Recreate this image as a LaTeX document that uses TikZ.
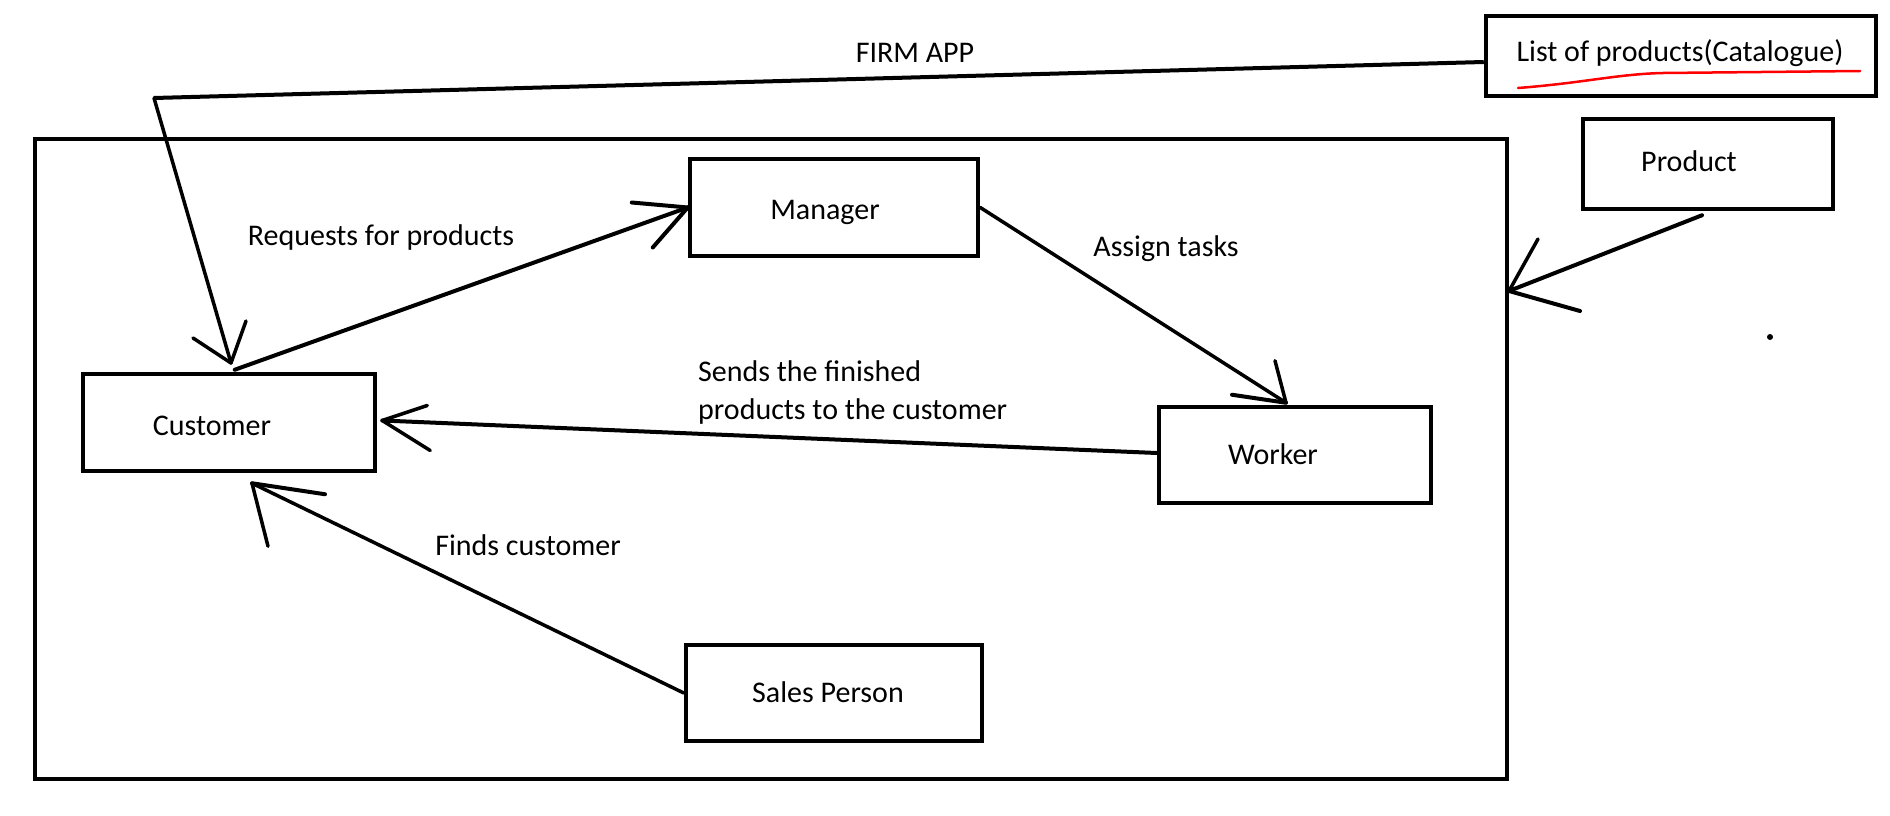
\documentclass[tikz,border=0pt]{standalone}
\usepackage{fontspec}
\setmainfont{Carlito}
\usetikzlibrary{calc}
\begin{document}
\begin{tikzpicture}[x=1pt,y=-1pt,
  box/.style={draw, line width=4.5, inner sep=0pt},
  lbl/.style={inner sep=0pt, font=\fontsize{30}{38}\selectfont},
  conn/.style={line width=4, line cap=round},
  thin conn/.style={line width=3.5, line cap=round}]
\fill[white] (0,0) rectangle (1890,816);
\useasboundingbox (0,0) rectangle (1890,816);
% boxes
\node[box, line width=4, minimum width=1472, minimum height=640] (outer) at (771,459) {};
\node[box, minimum width=288, minimum height=97] (mgr) at (834,207.5) {};
\node[box, minimum width=292, minimum height=97] (cust) at (229,422.5) {};
\node[box, minimum width=272, minimum height=96] (wrk) at (1295,455) {};
\node[box, minimum width=296, minimum height=96] (sales) at (834,693) {};
\node[box, minimum width=250, minimum height=90] (prod) at (1708,164) {};
\node[box, minimum width=390, minimum height=80] (list) at (1681,56) {};
% texts
\node[lbl] (tmgr) at (825,212) {Manager};
\node[lbl] (tcust) at (212,426) {Customer};
\node[lbl] (twrk) at (1273,454) {Worker};
\node[lbl] (tsales) at (828,692) {Sales Person};
\node[lbl] (tprod) at (1689,161) {Product};
\node[lbl] (tlist) at (1680,53) {List of products(Catalogue)};
\node[lbl] (tfirm) at (915,53) {FIRM APP};
\node[lbl] (treq) at (381,238) {Requests for products};
\node[lbl] (tassign) at (1166,249) {Assign tasks};
\node[lbl, align=left, anchor=north west] (tsends) at (698,360) {Sends the finished\\products to the customer};
\node[lbl] (tfinds) at (528,545) {Finds customer};
% red underline
\draw[red, line width=2.5, line cap=round] (1518,88) .. controls (1583,83) and (1618,74) .. (1663,73) -- (1860,71);
% FIRM APP connector
\coordinate (fc) at (154,98);
\coordinate (t1) at (231,363);
\draw[conn, line cap=butt] ($(list.west)+(0,6)$) -- (fc);
\draw[thin conn] (fc) -- (t1);
\draw[thin conn] (t1) -- ++(-38,-25);
\draw[thin conn] (t1) -- ++(15,-42);
% Requests for products
\draw[conn] ($(cust.north west)+(154,-2)$) -- (mgr.west);
\draw[conn] (mgr.west) -- ++(-56,-5);
\draw[conn] (mgr.west) -- ++(-35,40);
% Assign tasks
\coordinate (t3) at ($(wrk.north)+(-9,-2)$);
\draw[thin conn] (mgr.east) -- (t3);
\draw[thin conn] (t3) -- ++(-11,-42);
\draw[conn] (t3) -- ++(-54,-8);
% Sends the finished products
\coordinate (t4) at ($(cust.east)+(5,-2)$);
\draw[conn] ($(wrk.west)+(0,-2)$) -- (t4);
\draw[thin conn] (t4) -- ++(48,30);
\draw[thin conn] (t4) -- ++(45,-15);
% Finds customer
\coordinate (t5) at ($(cust.south)+(23,10)$);
\draw[thin conn] (sales.west) -- (t5);
\draw[conn] (t5) -- ++(73,11);
\draw[thin conn] (t5) -- ++(16,63);
% Product arrow
\coordinate (t6) at ($(outer.north east)+(0,154)$);
\draw[conn] ($(prod.south)+(-6,4)$) -- (t6);
\draw[thin conn] (t6) -- ++(29,-52);
\draw[conn] (t6) -- ++(71,20);
% dot
\fill (1770,337) circle (3);
\end{tikzpicture}
\end{document}
